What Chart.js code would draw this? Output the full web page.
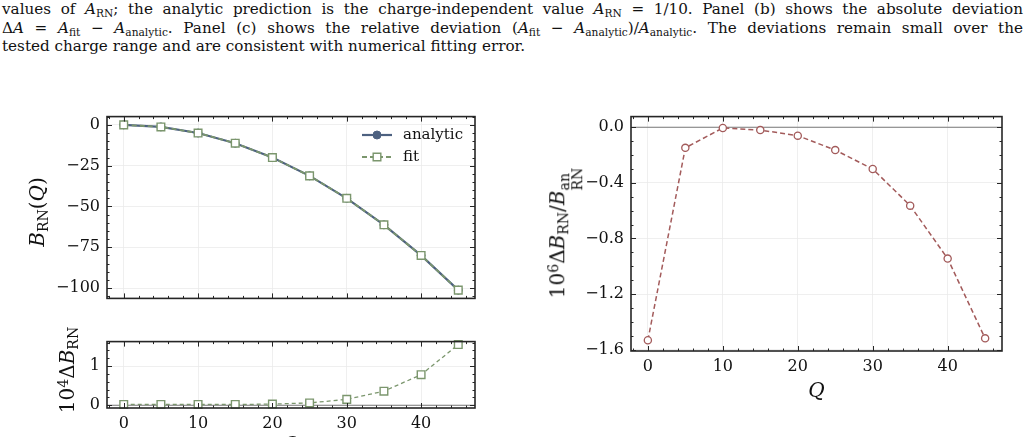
<!DOCTYPE html>
<html><head><meta charset="utf-8">
<script src="https://cdn.jsdelivr.net/npm/chart.js@4"></script>
<style>
html,body{margin:0;padding:0;background:#fff;}
body{width:1028px;height:437px;overflow:hidden;position:relative;color:#111;}
#cap{position:absolute;left:2px;top:0px;width:1021px;font:15.2px/18.5px 'DejaVu Serif',serif;}
#cap .l{white-space:nowrap;}
#cap .j{text-align:justify;text-align-last:justify;white-space:normal;}
sub,sup{font-size:70%;line-height:0;position:relative;vertical-align:baseline;}
sub{top:0.3em;} sup{top:-0.45em;}
canvas{position:absolute;}
.yl{position:absolute;transform:translate(-50%,-50%) rotate(-90deg);white-space:nowrap;font:20px 'DejaVu Serif',serif;color:#111;}
.ss{display:inline-flex;flex-direction:column;font-size:70%;line-height:0.95;vertical-align:-0.35em;}
</style>
</head><body>
<div id="cap">
<div class="l j">values of <i>A</i><sub>RN</sub>; the analytic prediction is the charge-independent value <i>A</i><sub>RN</sub> = 1/10. Panel (b) shows the absolute deviation</div>
<div class="l j">Δ<i>A</i> = <i>A</i><sub>fit</sub> − <i>A</i><sub>analytic</sub>. Panel (c) shows the relative deviation (<i>A</i><sub>fit</sub> − <i>A</i><sub>analytic</sub>)/<i>A</i><sub>analytic</sub>. The deviations remain small over the</div>
<div class="l">tested charge range and are consistent with numerical fitting error.</div>
</div>

<canvas id="cA" width="490" height="215" style="left:0;top:100px;width:490px;height:215px"></canvas>
<canvas id="cB" width="490" height="135" style="left:0;top:325px;width:490px;height:135px"></canvas>
<canvas id="cC" width="495" height="306" style="left:520px;top:100px;width:495px;height:306px"></canvas>

<div class="yl" style="left:37px;top:212px"><i>B</i><sub>RN</sub>(<i>Q</i>)</div>
<div class="yl" style="left:67px;top:370px">10<sup>4</sup>Δ<i>B</i><sub>RN</sub></div>
<div class="yl" style="left:565px;top:233px">10<sup>6</sup>Δ<i>B</i><sub>RN</sub>/<i>B</i><span class="ss"><span>an</span><span>RN</span></span></div>

<script>
// ---------- data ----------
const Q = [0, 5, 10, 15, 20, 25, 30, 35, 40, 45];
const B_analytic = [0, -1.25, -5, -11.25, -20, -31.25, -45, -61.25, -80, -101.25];
const B_fit = [0.000002, -1.249998, -4.999998, -11.249998, -19.999997, -31.249994, -44.999985, -61.249964, -79.999922, -101.249845];
const dB_1e4 = [0.02, 0.02, 0.02, 0.02, 0.03, 0.06, 0.15, 0.36, 0.78, 1.55];
const relDev_1e6 = [-1.533, -0.148, -0.005, -0.02, -0.06, -0.164, -0.30, -0.564, -0.945, -1.519];

// ---------- ticks ----------
const xMajor = [0, 10, 20, 30, 40];
const xMinor = [-2, 2, 4, 6, 8, 12, 14, 16, 18, 22, 24, 26, 28, 32, 34, 36, 38, 42, 44, 46];
const yMajorA = [0, -25, -50, -75, -100];
const yMinorA = [5, -5, -10, -15, -20, -30, -35, -40, -45, -55, -60, -65, -70, -80, -85, -90, -95, -105];
const yMajorB = [0, 1];
const yMinorB = [0.2, 0.4, 0.6, 0.8, 1.2, 1.4, 1.6];
const yMajorC = [0, -0.4, -0.8, -1.2, -1.6];
const yMinorC = [-0.1, -0.2, -0.3, -0.5, -0.6, -0.7, -0.9, -1.0, -1.1, -1.3, -1.4, -1.5];

// ---------- style ----------
const colAnalytic = '#4d6180';
const colFit = '#7b966d';
const colRel = '#a35b5b';
const gridCol = '#ebebeb';
const frameCol = '#262626';

Chart.defaults.font.family = "'DejaVu Serif', serif";
Chart.defaults.color = '#111';

const pts = (xs, ys) => xs.map((x, i) => ({x: x, y: ys[i]}));
const fmt = d => v => (v < -1e-9 ? '\u2212' : '') + Math.abs(v).toFixed(d);

const decor = {
  id: 'decor',
  beforeDatasetsDraw(chart, args, o) {
    if (!o.zeroLine) return;
    const {ctx, chartArea: a} = chart;
    const y = chart.scales.y.getPixelForValue(0);
    ctx.save();
    ctx.strokeStyle = '#7a7a7a'; ctx.lineWidth = 1.1;
    ctx.beginPath(); ctx.moveTo(a.left, y); ctx.lineTo(a.right, y); ctx.stroke();
    ctx.restore();
  },
  afterDraw(chart, args, o) {
    const {ctx, chartArea: a} = chart;
    const xs = chart.scales.x, ys = chart.scales.y;
    ctx.save();
    ctx.strokeStyle = frameCol; ctx.lineWidth = 1;
    const tx = (vals, len) => vals.forEach(v => {
      const p = Math.round(xs.getPixelForValue(v)) + 0.5;
      if (p < a.left || p > a.right) return;
      ctx.beginPath(); ctx.moveTo(p, a.top); ctx.lineTo(p, a.top + len);
      ctx.moveTo(p, a.bottom); ctx.lineTo(p, a.bottom - len); ctx.stroke();
    });
    const ty = (vals, len) => vals.forEach(v => {
      const p = Math.round(ys.getPixelForValue(v)) + 0.5;
      if (p < a.top || p > a.bottom) return;
      ctx.beginPath(); ctx.moveTo(a.left, p); ctx.lineTo(a.left + len, p);
      ctx.moveTo(a.right, p); ctx.lineTo(a.right - len, p); ctx.stroke();
    });
    tx(o.xMajor, 5); tx(o.xMinor, 2.5);
    ty(o.yMajor, 5); ty(o.yMinor, 2.5);
    ctx.lineWidth = 1.6;
    ctx.strokeRect(a.left, a.top, a.right - a.left, a.bottom - a.top);
    if (o.legend) {
      const L = o.legend;
      chart.data.datasets.forEach((ds, i) => {
        const y = L.y + i * L.dy;
        ctx.save();
        ctx.strokeStyle = ds.borderColor; ctx.lineWidth = ds.borderWidth;
        ctx.setLineDash(ds.borderDash || []);
        ctx.beginPath(); ctx.moveTo(L.x, y); ctx.lineTo(L.x + 30, y); ctx.stroke();
        ctx.setLineDash([]);
        ctx.fillStyle = ds.pointBackgroundColor; ctx.strokeStyle = ds.pointBorderColor;
        ctx.lineWidth = ds.pointBorderWidth;
        Chart.helpers.drawPoint(ctx, {pointStyle: ds.pointStyle, radius: ds.pointRadius, rotation: 0, borderWidth: ds.pointBorderWidth}, L.x + 15, y);
        ctx.fillStyle = '#111'; ctx.font = "15px 'DejaVu Serif', serif";
        ctx.textBaseline = 'middle'; ctx.textAlign = 'left';
        ctx.fillText(ds.label, L.x + 41, y);
        ctx.restore();
      });
    }
    ctx.restore();
  }
};

function xScale(showLabels, h) {
  return {
    type: 'linear', min: -2.25, max: 47.25,
    afterBuildTicks: s => { s.ticks = xMajor.map(v => ({value: v})); },
    ticks: {display: showLabels, font: {size: 16}, padding: 6, maxRotation: 0, callback: fmt(0)},
    grid: {color: gridCol, lineWidth: 0.8, drawTicks: false},
    border: {display: false},
    title: {display: showLabels, text: 'Q', font: {size: 20, style: 'italic'}, padding: {top: 4, bottom: 2}, color: '#111'},
    afterFit: s => { s.height = h; }
  };
}
function yScale(min, max, major, dec, w) {
  return {
    type: 'linear', min: min, max: max,
    afterBuildTicks: s => { s.ticks = major.map(v => ({value: v})); },
    ticks: {font: {size: 16}, padding: 7, callback: fmt(dec)},
    grid: {color: gridCol, lineWidth: 0.8, drawTicks: false},
    border: {display: false},
    afterFit: s => { s.width = w; }
  };
}
const common = {responsive: false, animation: false, devicePixelRatio: 1, events: []};

// Panel (a)
new Chart(document.getElementById('cA'), {
  type: 'line',
  data: {datasets: [
    {label: 'analytic', data: pts(Q, B_analytic), borderColor: colAnalytic, borderWidth: 2.2,
     pointStyle: 'circle', pointRadius: 4, pointBackgroundColor: colAnalytic, pointBorderColor: colAnalytic, pointBorderWidth: 1, order: 2, clip: 8},
    {label: 'fit', data: pts(Q, B_fit), borderColor: colFit, borderWidth: 1.8, borderDash: [5, 3],
     pointStyle: 'rect', pointRadius: 5.4, pointBackgroundColor: '#ffffff', pointBorderColor: colFit, pointBorderWidth: 1.4, order: 1, clip: 8}
  ]},
  options: Object.assign({}, common, {
    layout: {padding: {top: 15, right: 15, left: 0, bottom: 0}},
    scales: {x: xScale(false, 4), y: yScale(-106.31, 5.06, yMajorA, 0, 107)},
    plugins: {legend: {display: false}, tooltip: {enabled: false},
      decor: {xMajor: xMajor, xMinor: xMinor, yMajor: yMajorA, yMinor: yMinorA, legend: {x: 362, y: 35, dy: 22}}}
  }),
  plugins: [decor]
});

// Panel (b)
new Chart(document.getElementById('cB'), {
  type: 'line',
  data: {datasets: [
    {label: 'fit', data: pts(Q, dB_1e4), borderColor: colFit, borderWidth: 1.3, borderDash: [4, 3],
     pointStyle: 'rect', pointRadius: 5.4, pointBackgroundColor: '#ffffff', pointBorderColor: colFit, pointBorderWidth: 1.4, clip: 8}
  ]},
  options: Object.assign({}, common, {
    layout: {padding: {top: 7, right: 15, left: 0, bottom: 0}},
    scales: {x: xScale(true, 52), y: yScale(-0.07, 1.625, yMajorB, 0, 107)},
    plugins: {legend: {display: false}, tooltip: {enabled: false},
      decor: {xMajor: xMajor, xMinor: xMinor, yMajor: yMajorB, yMinor: yMinorB, zeroLine: true}}
  }),
  plugins: [decor]
});

// Panel (c)
new Chart(document.getElementById('cC'), {
  type: 'line',
  data: {datasets: [
    {label: 'relative deviation', data: pts(Q, relDev_1e6), borderColor: colRel, borderWidth: 1.5, borderDash: [5, 3],
     pointStyle: 'circle', pointRadius: 3.6, pointBackgroundColor: '#ffffff', pointBorderColor: colRel, pointBorderWidth: 1.3, clip: 8}
  ]},
  options: Object.assign({}, common, {
    layout: {padding: {top: 15, right: 13, left: 0, bottom: 0}},
    scales: {x: xScale(true, 55), y: yScale(-1.61, 0.077, yMajorC, 1, 111)},
    plugins: {legend: {display: false}, tooltip: {enabled: false},
      decor: {xMajor: xMajor, xMinor: xMinor, yMajor: yMajorC, yMinor: yMinorC, zeroLine: true}}
  }),
  plugins: [decor]
});
</script>
</body></html>
